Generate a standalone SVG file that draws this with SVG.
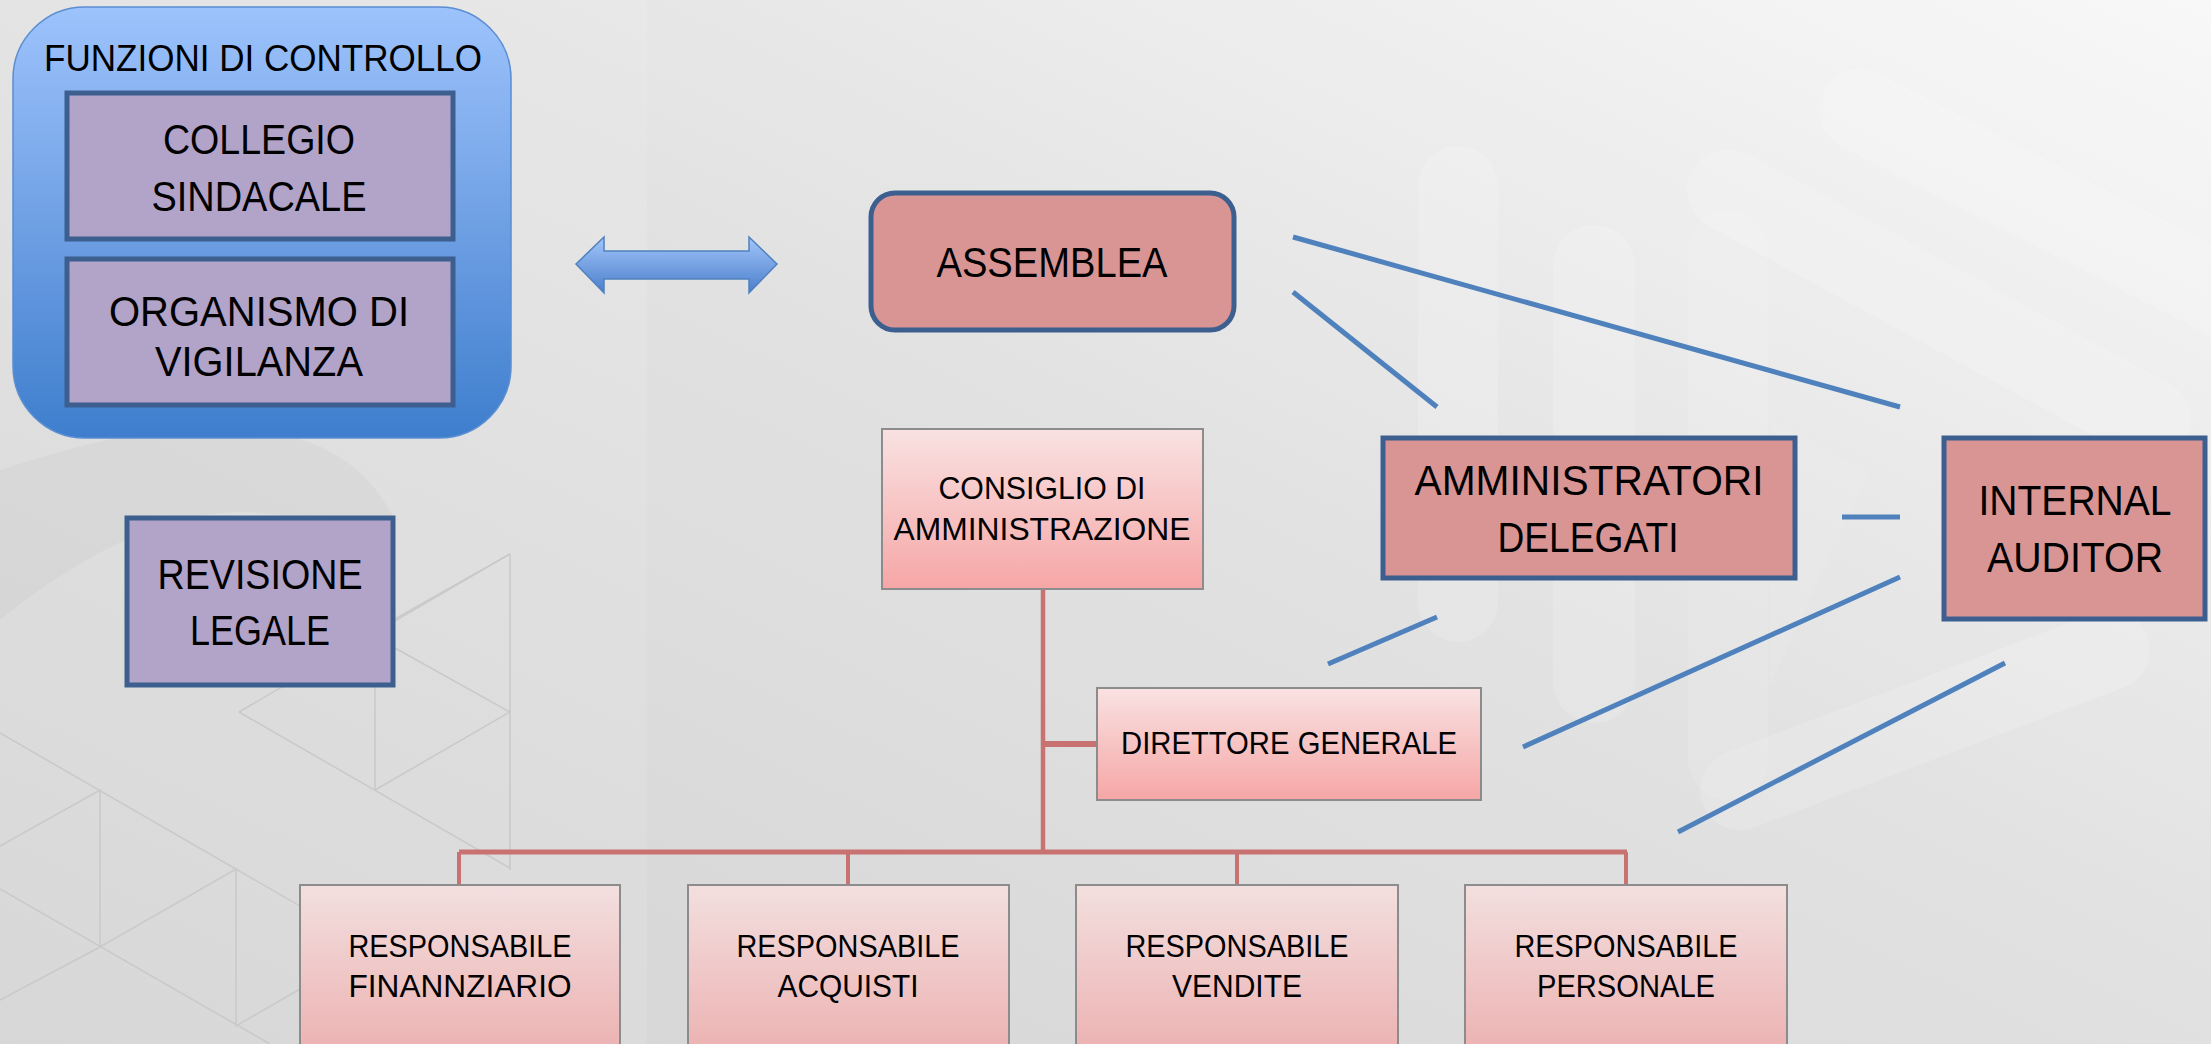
<svg xmlns="http://www.w3.org/2000/svg" width="2211" height="1044" viewBox="0 0 2211 1044">
  <defs>
    <linearGradient id="bg" x1="0" y1="1" x2="1" y2="0">
      <stop offset="0" stop-color="#d3d3d3"/>
      <stop offset="0.55" stop-color="#e2e2e2"/>
      <stop offset="1" stop-color="#f8f8f8"/>
    </linearGradient>
    <linearGradient id="blueBox" x1="0" y1="0" x2="0" y2="1">
      <stop offset="0" stop-color="#9dc3fc"/>
      <stop offset="0.5" stop-color="#6fa0e4"/>
      <stop offset="1" stop-color="#3e7ecd"/>
    </linearGradient>
    <linearGradient id="arrowFill" x1="0" y1="0" x2="0" y2="1">
      <stop offset="0" stop-color="#a3c6fb"/>
      <stop offset="1" stop-color="#4a7ecb"/>
    </linearGradient>
    <linearGradient id="pinkTop" x1="0" y1="0" x2="0" y2="1">
      <stop offset="0" stop-color="#f9e2e2"/>
      <stop offset="1" stop-color="#f6a6a6"/>
    </linearGradient>
    <linearGradient id="pinkBottom" x1="0" y1="0" x2="0" y2="1">
      <stop offset="0" stop-color="#f3dfdf"/>
      <stop offset="1" stop-color="#eba9a9"/>
    </linearGradient>
    <style>
      .txt { font-family: "Liberation Sans", Arial, sans-serif; fill: #000; text-anchor: middle; }
      .big { font-size: 42px; }
      .title { font-size: 37px; }
      .small { font-size: 31px; }
      .purple { fill: #b2a3c8; stroke: #3c5f8f; stroke-width: 5; }
      .rose { fill: #d99594; stroke: #3c5f8f; stroke-width: 5; }
      .pink { stroke: #8c8c8c; stroke-width: 2; }
      .blue-link { stroke: #4f81bd; stroke-width: 5; fill: none; }
      .org { stroke: #c97272; fill: none; }
      .lattice { stroke: #c9c9c9; stroke-width: 1.5; fill: none; }
      .band { stroke: #ffffff; stroke-opacity: 0.16; stroke-linecap: round; fill: none; }
    </style>
  </defs>

  <!-- background -->
  <rect x="0" y="0" width="2211" height="1044" fill="url(#bg)"/>
  <rect x="0" y="0" width="647" height="1044" fill="#ffffff" fill-opacity="0.1"/>
  <path d="M0,470 C120,430 200,420 260,430 C330,440 370,470 395,520 L395,560 C330,520 260,500 180,520 C110,540 50,580 0,620 Z" fill="#000" fill-opacity="0.025"/>

  <!-- triangle lattice, lower left -->
  <g class="lattice">
    <path d="M510,554 V870"/>
    <path d="M239,712 L510,554"/>
    <path d="M239,712 L510,868"/>
    <path d="M375,648 V790"/>
    <path d="M395,619 L510,554"/>
    <path d="M395,648 L510,712"/>
    <path d="M375,790 L510,712"/>
    <path d="M0,733 L560,1056"/>
    <path d="M0,889 L270,1044"/>
    <path d="M0,846 L100,790 V947 L236,869 V1026 L300,989"/>
    <path d="M0,1000 L100,947"/>
  </g>

  <!-- soft bands, right side -->
  <g class="band">
    <path d="M1458,186 V602" stroke-width="80"/>
    <path d="M1594,266 V682" stroke-width="82"/>
    <path d="M1728,190 L2150,420" stroke-width="82"/>
    <path d="M1860,110 L2230,300" stroke-width="82"/>
    <path d="M1740,790 L2110,650" stroke-width="80"/>
    <path d="M1728,250 V760" stroke-width="80" stroke-opacity="0.1"/>
  </g>
  <path d="M1770,419 L1868,474 L1770,686 Z" fill="#ffffff" fill-opacity="0.08"/>

  <!-- connectors -->
  <g id="connectors">
    <path class="blue-link" d="M1293,237 L1900,407"/>
    <path class="blue-link" d="M1293,292 L1437,407"/>
    <path class="blue-link" d="M1842,517 H1900"/>
    <path class="blue-link" d="M1900,577 L1523,747"/>
    <path class="blue-link" d="M1437,617 L1328,664"/>
    <path class="blue-link" d="M2005,663 L1678,832"/>
    <path class="org" stroke-width="4.5" d="M1043,589 V852"/>
    <path class="org" stroke-width="6" d="M1043,744 H1097"/>
    <path class="org" stroke-width="5" d="M459,852 H1627"/>
    <path class="org" stroke-width="4" d="M459,852 V885 M848,852 V885 M1237,852 V885 M1626,852 V885"/>
    <path id="double-arrow" d="M576,264 L604,237 L604,251 L749,251 L749,237 L777,264 L749,293 L749,279 L604,279 L604,293 Z" fill="url(#arrowFill)" stroke="#4f81bd" stroke-width="1.5"/>
  </g>

  <!-- control functions group -->
  <g id="funzioni-controllo">
    <rect x="13" y="7" width="498" height="431" rx="72" fill="url(#blueBox)" stroke="#5a8dd2" stroke-width="1.5"/>
    <text class="txt title" x="263" y="71" textLength="438" lengthAdjust="spacingAndGlyphs">FUNZIONI DI CONTROLLO</text>
  </g>
  <g id="collegio-sindacale">
    <rect class="purple" x="67" y="93" width="386" height="146"/>
    <text class="txt big" x="259" y="154" textLength="192" lengthAdjust="spacingAndGlyphs">COLLEGIO</text>
    <text class="txt big" x="259" y="211" textLength="215" lengthAdjust="spacingAndGlyphs">SINDACALE</text>
  </g>
  <g id="organismo-vigilanza">
    <rect class="purple" x="67" y="259" width="386" height="146"/>
    <text class="txt big" x="259" y="326" textLength="300" lengthAdjust="spacingAndGlyphs">ORGANISMO DI</text>
    <text class="txt big" x="259" y="376" textLength="208" lengthAdjust="spacingAndGlyphs">VIGILANZA</text>
  </g>
  <g id="revisione-legale">
    <rect class="purple" x="127" y="518" width="266" height="167"/>
    <text class="txt big" x="260" y="589" textLength="205" lengthAdjust="spacingAndGlyphs">REVISIONE</text>
    <text class="txt big" x="260" y="645" textLength="140" lengthAdjust="spacingAndGlyphs">LEGALE</text>
  </g>

  <!-- governance bodies -->
  <g id="assemblea">
    <rect class="rose" x="871" y="193" width="363" height="137" rx="24"/>
    <text class="txt big" x="1052" y="277" textLength="231" lengthAdjust="spacingAndGlyphs">ASSEMBLEA</text>
  </g>
  <g id="amministratori-delegati">
    <rect class="rose" x="1383" y="438" width="412" height="140"/>
    <text class="txt big" x="1589" y="495" textLength="349" lengthAdjust="spacingAndGlyphs">AMMINISTRATORI</text>
    <text class="txt big" x="1588" y="552" textLength="181" lengthAdjust="spacingAndGlyphs">DELEGATI</text>
  </g>
  <g id="internal-auditor">
    <rect class="rose" x="1944" y="438" width="261" height="181"/>
    <text class="txt big" x="2075" y="515" textLength="193" lengthAdjust="spacingAndGlyphs">INTERNAL</text>
    <text class="txt big" x="2075" y="572" textLength="176" lengthAdjust="spacingAndGlyphs">AUDITOR</text>
  </g>

  <!-- org chart -->
  <g id="consiglio-amministrazione">
    <rect class="pink" x="882" y="429" width="321" height="160" fill="url(#pinkTop)"/>
    <text class="txt small" x="1042" y="499" textLength="207" lengthAdjust="spacingAndGlyphs">CONSIGLIO DI</text>
    <text class="txt small" x="1042" y="540" textLength="297" lengthAdjust="spacingAndGlyphs">AMMINISTRAZIONE</text>
  </g>
  <g id="direttore-generale">
    <rect class="pink" x="1097" y="688" width="384" height="112" fill="url(#pinkTop)"/>
    <text class="txt small" x="1289" y="754" textLength="336" lengthAdjust="spacingAndGlyphs">DIRETTORE GENERALE</text>
  </g>
  <g id="responsabile-finanziario">
    <rect class="pink" x="300" y="885" width="320" height="200" fill="url(#pinkBottom)"/>
    <text class="txt small" x="460" y="957" textLength="223" lengthAdjust="spacingAndGlyphs">RESPONSABILE</text>
    <text class="txt small" x="460" y="997" textLength="223" lengthAdjust="spacingAndGlyphs">FINANNZIARIO</text>
  </g>
  <g id="responsabile-acquisti">
    <rect class="pink" x="688" y="885" width="321" height="200" fill="url(#pinkBottom)"/>
    <text class="txt small" x="848" y="957" textLength="223" lengthAdjust="spacingAndGlyphs">RESPONSABILE</text>
    <text class="txt small" x="848" y="997" textLength="141" lengthAdjust="spacingAndGlyphs">ACQUISTI</text>
  </g>
  <g id="responsabile-vendite">
    <rect class="pink" x="1076" y="885" width="322" height="200" fill="url(#pinkBottom)"/>
    <text class="txt small" x="1237" y="957" textLength="223" lengthAdjust="spacingAndGlyphs">RESPONSABILE</text>
    <text class="txt small" x="1237" y="997" textLength="130" lengthAdjust="spacingAndGlyphs">VENDITE</text>
  </g>
  <g id="responsabile-personale">
    <rect class="pink" x="1465" y="885" width="322" height="200" fill="url(#pinkBottom)"/>
    <text class="txt small" x="1626" y="957" textLength="223" lengthAdjust="spacingAndGlyphs">RESPONSABILE</text>
    <text class="txt small" x="1626" y="997" textLength="178" lengthAdjust="spacingAndGlyphs">PERSONALE</text>
  </g>
</svg>
